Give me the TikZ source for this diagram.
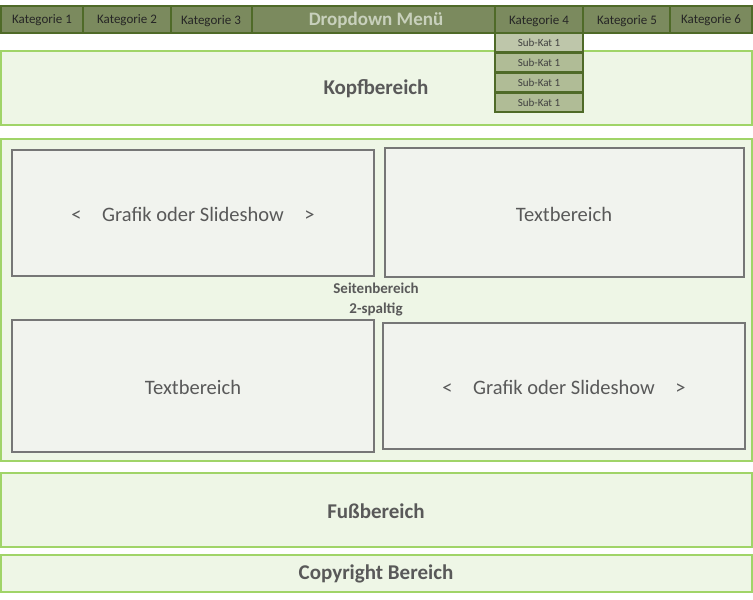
\documentclass[tikz,border=0pt]{standalone}
\usepackage{fontspec}
\setmainfont{Carlito}
\definecolor{barfill}{HTML}{7B8A5E}
\definecolor{bardraw}{HTML}{4F6A28}
\definecolor{subfillA}{HTML}{BEC6AA}
\definecolor{subfillB}{HTML}{B0BC96}
\definecolor{secfill}{HTML}{EEF6E6}
\definecolor{secdraw}{HTML}{A0D468}
\definecolor{boxfill}{HTML}{F1F3EE}
\definecolor{boxdraw}{HTML}{767676}
\definecolor{txt}{HTML}{595959}
\definecolor{ddtxt}{HTML}{C8D0BC}
\begin{document}
\begin{tikzpicture}[x=1pt,y=-1pt,
 bar/.style={draw=bardraw,line width=1.5pt,fill=barfill},
 sub/.style={draw=bardraw,line width=1.5pt,fill=subfillB},
 sec/.style={draw=secdraw,line width=1.5pt,fill=secfill},
 inbox/.style={draw=boxdraw,line width=1.5pt,fill=boxfill},
 lab/.style={text=txt,font=\fontsize{20.5}{24}\selectfont},
 blab/.style={text=txt,font=\bfseries\fontsize{21}{24}\selectfont},
 klab/.style={text=black!85,font=\fontsize{13}{15}\selectfont},
 slab/.style={text=black!75,font=\fontsize{11}{13}\selectfont}]
\useasboundingbox (0,0) rectangle (753,600);
% sections
\draw[sec] (1,51) rectangle (752,125);
\node[blab] (kopf) at (376,89) {Kopfbereich};
\draw[sec] (1,139) rectangle (752,461);
\node[text=txt,font=\bfseries\fontsize{15}{20}\selectfont,align=center] (seit) at (376,300) {Seitenbereich\\2-spaltig};
\draw[sec] (1,473) rectangle (752,547);
\node[blab] (fuss) at (376,511) {Fußbereich};
\draw[sec] (1,555) rectangle (752,592);
\node[blab] (copy) at (376,574) {Copyright Bereich};
% inner boxes
\draw[inbox] (12,150) rectangle (374,276);
\node[lab] (g1) at (193,214) {<\quad Grafik oder Slideshow\quad >};
\draw[inbox] (385,148) rectangle (744,277);
\node[lab] (t1) at (564,214) {Textbereich};
\draw[inbox] (12,320) rectangle (374,452);
\node[lab] (t2) at (193,387) {Textbereich};
\draw[inbox] (383,323) rectangle (745,449);
\node[lab] (g2) at (564,387) {<\quad Grafik oder Slideshow\quad >};
% top bar
\draw[bar] (1,6) rectangle (83,33);   \node[klab] (k1) at (42,20) {Kategorie 1};
\draw[bar] (83,6) rectangle (171,33); \node[klab] (k2) at (127,20) {Kategorie 2};
\draw[bar] (171,6) rectangle (252,33);\node[klab] (k3) at (211,21) {Kategorie 3};
\draw[bar] (252,6) rectangle (495,33);\node[text=ddtxt,font=\bfseries\fontsize{19}{22}\selectfont] (dd) at (376,20) {Dropdown Menü};
\draw[bar] (495,6) rectangle (583,33);\node[klab] (k4) at (539,21) {Kategorie 4};
\draw[bar] (583,6) rectangle (670,33);\node[klab] (k5) at (627,21) {Kategorie 5};
\draw[bar] (670,6) rectangle (752,33);\node[klab] (k6) at (711,20) {Kategorie 6};
% submenu
\draw[sub,fill=subfillA] (495,33) rectangle (583,52); \node[slab] (s1) at (539,43) {Sub-Kat 1};
\draw[sub] (495,53) rectangle (583,72); \node[slab] (s2) at (539,63) {Sub-Kat 1};
\draw[sub] (495,73) rectangle (583,92); \node[slab] (s3) at (539,83) {Sub-Kat 1};
\draw[sub] (495,93) rectangle (583,112); \node[slab] (s4) at (539,103) {Sub-Kat 1};
\end{tikzpicture}
\end{document}
